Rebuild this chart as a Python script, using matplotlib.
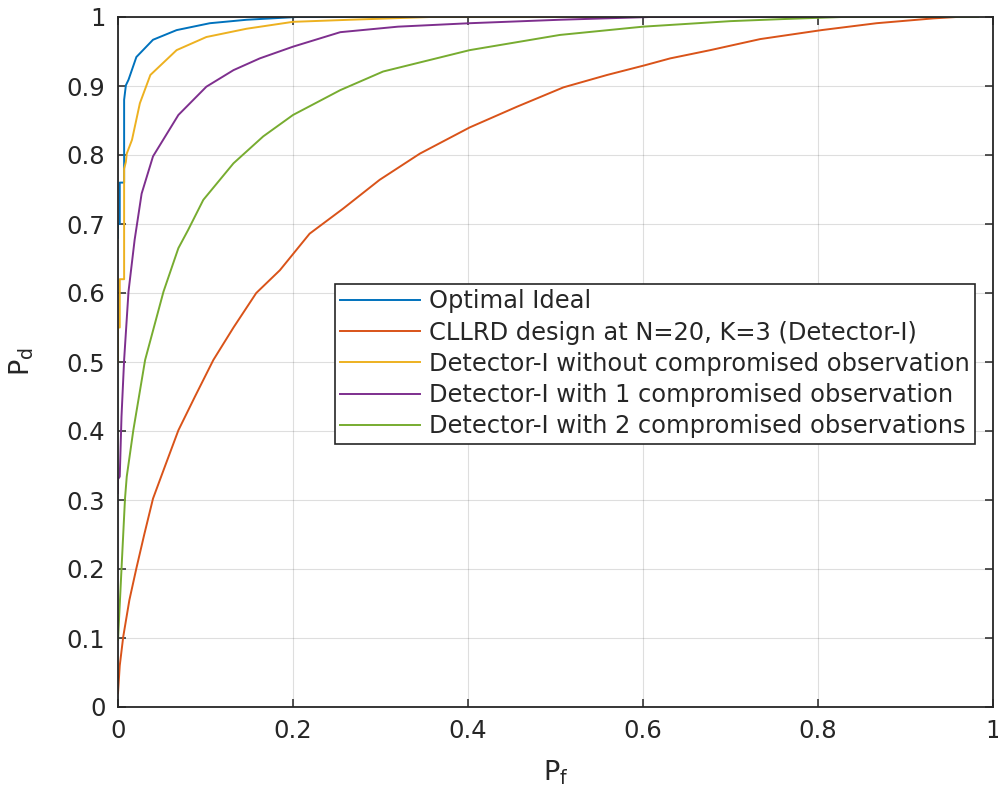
"""ROC curves: optimal ideal vs CLLRD detector-I with compromised observations."""
import numpy as np
import matplotlib
matplotlib.use("Agg")
import matplotlib.pyplot as plt
from matplotlib.ticker import FuncFormatter

# ---- data (P_f, P_d) ----
ideal_pf = [0, 0, 0.002, 0.002, 0.007, 0.007, 0.009, 0.012, 0.021, 0.040, 0.067, 0.105, 0.147, 0.204, 0.357]
ideal_pd = [0.68, 0.70, 0.70, 0.76, 0.76, 0.88, 0.901, 0.909, 0.942, 0.967, 0.981, 0.991, 0.996, 1.0, 1.0]

cllrd_pf = [0, 0.002, 0.006, 0.013, 0.021, 0.030, 0.040, 0.054, 0.069, 0.088, 0.109, 0.132, 0.158,
            0.185, 0.219, 0.257, 0.299, 0.345, 0.402, 0.456, 0.509, 0.559, 0.602, 0.631, 0.677,
            0.734, 0.804, 0.867, 0.932, 0.958]
cllrd_pd = [0.02, 0.06, 0.102, 0.155, 0.201, 0.250, 0.302, 0.350, 0.401, 0.450, 0.503, 0.550, 0.600,
            0.633, 0.686, 0.722, 0.764, 0.802, 0.840, 0.870, 0.898, 0.916, 0.930, 0.940, 0.952,
            0.968, 0.981, 0.991, 0.998, 1.0]

det0_pf = [0, 0, 0.002, 0.002, 0.007, 0.007, 0.009, 0.010, 0.016, 0.025, 0.037, 0.067, 0.101, 0.147,
           0.200, 0.265, 0.357, 0.61]
det0_pd = [0.50, 0.55, 0.55, 0.62, 0.62, 0.78, 0.79, 0.802, 0.822, 0.875, 0.916, 0.952, 0.971, 0.983,
           0.993, 0.996, 1.0, 1.0]

det1_pf = [0, 0, 0.002, 0.004, 0.007, 0.012, 0.019, 0.027, 0.040, 0.069, 0.101, 0.132, 0.162, 0.200,
           0.254, 0.320, 0.402, 0.505, 0.608, 0.827]
det1_pd = [0.31, 0.33, 0.334, 0.421, 0.503, 0.602, 0.677, 0.744, 0.798, 0.858, 0.899, 0.923, 0.940,
           0.957, 0.978, 0.986, 0.991, 0.996, 1.0, 1.0]

det2_pf = [0, 0, 0.004, 0.008, 0.010, 0.0175, 0.031, 0.052, 0.069, 0.080, 0.0975, 0.132, 0.166, 0.200,
           0.254, 0.303, 0.402, 0.505, 0.600, 0.700, 0.760, 0.827, 0.983]
det2_pd = [0.12, 0.097, 0.200, 0.302, 0.334, 0.401, 0.503, 0.602, 0.665, 0.691, 0.735, 0.788, 0.827,
           0.858, 0.894, 0.921, 0.952, 0.974, 0.986, 0.994, 0.997, 1.0, 1.0]

labels = ["Optimal Ideal",
          "CLLRD design at N=20, K=3 (Detector-I)",
          "Detector-I without compromised observation",
          "Detector-I with 1 compromised observation",
          "Detector-I with 2 compromised observations"]
colors = ["#0072BD", "#D95319", "#EDB120", "#7E2F8E", "#77AC30"]
series = [(ideal_pf, ideal_pd), (cllrd_pf, cllrd_pd), (det0_pf, det0_pd),
          (det1_pf, det1_pd), (det2_pf, det2_pd)]

INK = "#262626"
plt.rcParams.update({"font.family": "DejaVu Sans", "font.size": 17})

fig = plt.figure(figsize=(9.98, 7.98), dpi=100)
ax = fig.add_axes([118 / 998, 91 / 798, 875 / 998, 690 / 798])

for (pf, pd), c, lab in zip(series, colors, labels):
    ax.plot(pf, pd, color=c, lw=1.4, label=lab)

ax.set_xlim(0, 1)
ax.set_ylim(0, 1)
ax.set_xticks(np.arange(0, 1.01, 0.2))
ax.set_yticks(np.arange(0, 1.01, 0.1))
fmt = FuncFormatter(lambda v, _: "0" if abs(v) < 1e-9 else ("1" if abs(v - 1) < 1e-9 else f"{v:.1f}"))
ax.xaxis.set_major_formatter(fmt)
ax.yaxis.set_major_formatter(fmt)
ax.grid(True, color=INK, alpha=0.15, lw=0.8)
ax.tick_params(direction="in", length=6, width=1.1, color=INK, labelcolor=INK,
               top=True, right=True, labelsize=17.5, pad=9)
for s in ax.spines.values():
    s.set_color(INK)
    s.set_linewidth(1.3)
    s.set_zorder(5)

ax.set_xlabel(r"P$_\mathregular{f}$", fontsize=19.5, color=INK, labelpad=11)
ax.set_ylabel(r"P$_\mathregular{d}$", fontsize=19.5, color=INK, labelpad=22)

leg = ax.legend(loc="upper left", bbox_to_anchor=((335 - 118) / 875, (707 - 284) / 690),
                borderaxespad=0, fontsize=17.4, frameon=True, fancybox=False, framealpha=1,
                edgecolor=INK, handlelength=3.3, handletextpad=0.35, labelspacing=0.3,
                borderpad=0.22)
leg.get_frame().set_linewidth(1.2)
for t in leg.get_texts():
    t.set_color(INK)

fig.savefig("out.png", dpi=100)
